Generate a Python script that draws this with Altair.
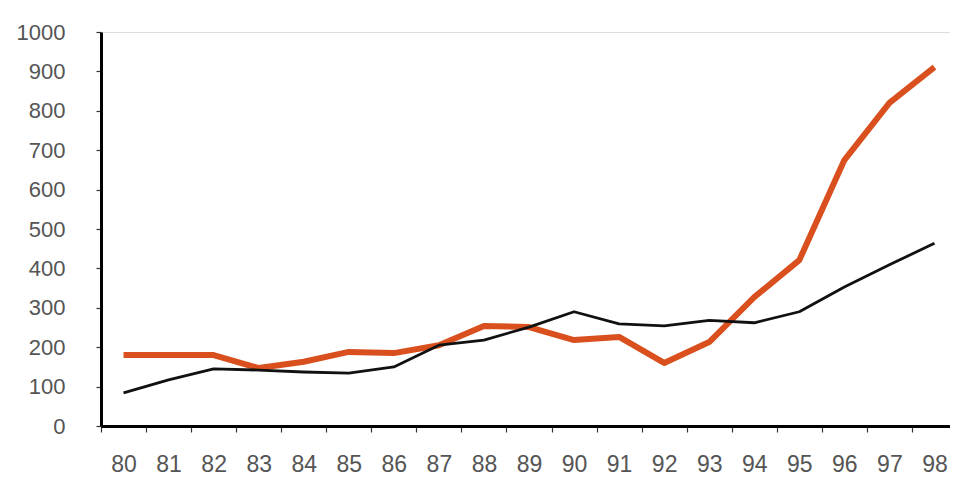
import altair as alt
import pandas as pd

years = ["80", "81", "82", "83", "84", "85", "86", "87", "88", "89",
         "90", "91", "92", "93", "94", "95", "96", "97", "98"]
orange_vals = [180, 180, 180, 147, 163, 188, 185, 205, 254, 251,
               218, 226, 160, 213, 327, 421, 675, 820, 911]
black_vals = [84, 117, 145, 142, 137, 134, 150, 205, 218, 251,
              290, 259, 254, 268, 262, 290, 353, 409, 464]

df = pd.DataFrame({
    "year": years * 2,
    "value": orange_vals + black_vals,
    "series": ["orange"] * len(years) + ["black"] * len(years),
})

x_enc = alt.X(
    "year:O",
    sort=years,
    bandPosition=0.5,
    scale=alt.Scale(type="band", range=[0, 856], paddingInner=0, paddingOuter=0),
    axis=alt.Axis(
        title=None, labelAngle=0, tickBand="extent", domainWidth=3, grid=False,
        domainColor="black", tickColor="#333", tickWidth=1.2, tickSize=6,
        labelPadding=21, labelFontSize=23, labelColor="#555",
        labelFont="Liberation Sans",
    ),
)
y_enc = alt.Y(
    "value:Q",
    scale=alt.Scale(domain=[0, 1000], nice=False),
    axis=alt.Axis(
        title=None, values=list(range(0, 1001, 100)), format="d", grid=False,
        domainWidth=3, domainColor="black", tickColor="#333", tickWidth=1.2,
        tickSize=5, labelPadding=31, labelFontSize=22, labelColor="#555",
        labelFont="Liberation Sans",
    ),
)

chart = (
    alt.Chart(df)
    .mark_line(strokeJoin="round")
    .encode(
        x=x_enc,
        y=y_enc,
        color=alt.Color("series:N", scale=alt.Scale(domain=["orange", "black"], range=["#D9501E", "#111111"]), legend=None),
        strokeWidth=alt.StrokeWidth("series:N", scale=alt.Scale(domain=["orange", "black"], range=[6, 2.8]), legend=None),
        order=alt.Order("series:N", sort="descending"),
    )
    .properties(
        width=849,
        height=394,
        autosize=alt.AutoSizeParams(type="none"),
        padding={"left": 93, "top": 24, "right": 0, "bottom": 52},
    )
    .configure_view(stroke="white", strokeWidth=2, fill="white")
    .configure_axis(grid=False)
    .configure(background="white")
)

chart.save("out.html", embed_options={"renderer": "svg", "actions": False})
